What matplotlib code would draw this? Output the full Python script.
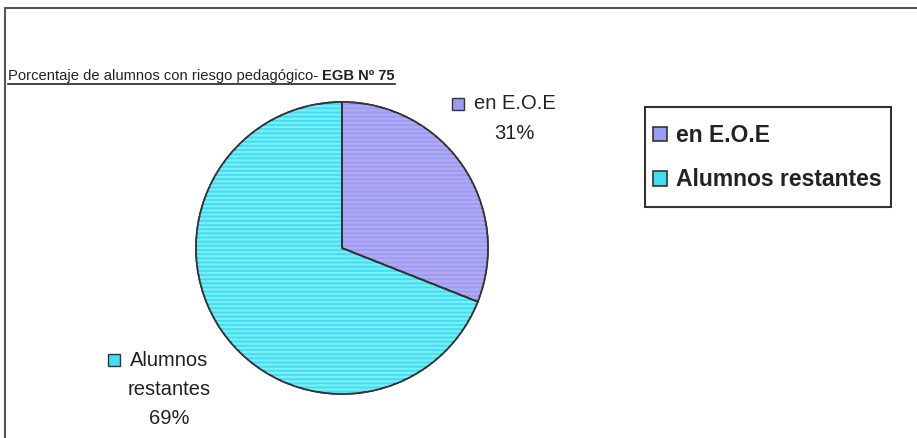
import numpy as np
import matplotlib
matplotlib.use('Agg')
import matplotlib.pyplot as plt
from matplotlib.patches import Rectangle
from matplotlib.lines import Line2D
from matplotlib.transforms import offset_copy

# datos
categorias = ['en E.O.E', 'Alumnos restantes']
etiquetas = ['en E.O.E', 'Alumnos\nrestantes']
porcentajes = [31, 69]
colores = ['#9a9cf2', '#42def0']
rayas = ['#b2a8f4', '#78eef8']
titulo = 'Porcentaje de alumnos con riesgo pedagógico-'
titulo_neg = 'EGB Nº 75'

W, H = 917, 438
plt.rcParams['font.family'] = ['Liberation Sans', 'DejaVu Sans']
plt.rcParams['hatch.linewidth'] = 1.6
fig = plt.figure(figsize=(W / 100, H / 100), dpi=100)

# borde del area del grafico (solo arriba e izquierda visibles)
fig.add_artist(Rectangle((5 / W, -0.1), 1.2, 1 - 8 / H + 0.1, transform=fig.transFigure,
                         fill=False, ec='#555555', lw=1.5))

# torta
cx, cy, r = 342, 248, 146
ax = fig.add_axes([(cx - r) / W, 1 - (cy + r) / H, 2 * r / W, 2 * r / H])
wedges, _ = ax.pie(porcentajes, colors=colores, startangle=90, counterclock=False,
                   wedgeprops=dict(edgecolor='#333333', linewidth=1.2))
# textura rayada como en el original
tex, _ = ax.pie(porcentajes, startangle=90, counterclock=False,
                wedgeprops=dict(facecolor='none', linewidth=0, hatch='----'))
for w, c in zip(tex, rayas):
    w.set_edgecolor(c)
# borde encima de la textura
borde, _ = ax.pie(porcentajes, startangle=90, counterclock=False,
                  wedgeprops=dict(facecolor='none', edgecolor='#333333', linewidth=1.2))
ax.set_xlim(-1, 1)
ax.set_ylim(-1, 1)

# etiquetas de datos
fs_lab = 14.5
paso = 21            # puntos entre renglones
dist = 1.43
grupos = []
for w, lab, p, col in zip(wedges, etiquetas, porcentajes, colores):
    mid = np.deg2rad((w.theta1 + w.theta2) / 2)
    x, y = dist * np.cos(mid), dist * np.sin(mid)
    lineas = lab.split('\n') + [f'{p}%']
    n = len(lineas)
    # el bloque se aleja de la torta segun su alto
    desp = np.sign(np.sin(mid)) * (n - 1) / 2 * paso * 0.83
    textos = []
    for i, ln in enumerate(lineas):
        dy = desp + ((n - 1) / 2 - i) * paso
        t = ax.annotate(ln, (x, y), xytext=(0, dy), textcoords='offset points',
                        ha='center', va='center', fontsize=fs_lab, color='#222222',
                        annotation_clip=False)
        textos.append(t)
    grupos.append((x, y, textos, desp + (n - 1) / 2 * paso, col))

# titulo
yb = 1 - 80 / H
t1 = fig.text(8 / W, yb, titulo, fontsize=10.6, ha='left', va='baseline', color='#222222')
fig.canvas.draw()
rend = fig.canvas.get_renderer()
b1 = t1.get_window_extent(rend)
t2 = fig.text((b1.x1 + 4) / W, yb, titulo_neg, fontsize=10.6, fontweight='bold',
              ha='left', va='baseline', color='#222222')
b2 = t2.get_window_extent(rend)
yl = (yb * H - 4) / H
fig.add_artist(Line2D([b1.x0 / W, b2.x1 / W], [yl, yl], transform=fig.transFigure,
                      color='#222222', lw=1.2))

# cuadraditos de las etiquetas
for x, y, textos, dy, col in grupos:
    bb = textos[0].get_window_extent(rend)
    dx = -(bb.width / 2 + 16) * 72 / 100
    tr = offset_copy(ax.transData, fig=fig, x=dx, y=dy, units='points')
    ax.plot([x], [y], marker='s', ms=8.5, mfc=col, mec='#333333', mew=1.0,
            transform=tr, clip_on=False)

# leyenda con marco propio
fig.add_artist(Rectangle((645 / W, 1 - 207 / H), 246 / W, 100 / H, transform=fig.transFigure,
                         fill=False, ec='#333333', lw=1.5))
leg = fig.legend(wedges, categorias, loc='upper left', bbox_to_anchor=(653 / W, 1 - 124 / H),
                 prop=dict(weight='bold', size=16.5), frameon=False,
                 borderpad=0, handlelength=0.6, handleheight=0.6,
                 handletextpad=0.4, labelspacing=0.93, borderaxespad=0)
for txt in leg.get_texts():
    txt.set_color('#222222')

fig.savefig('out.png', dpi=100)
